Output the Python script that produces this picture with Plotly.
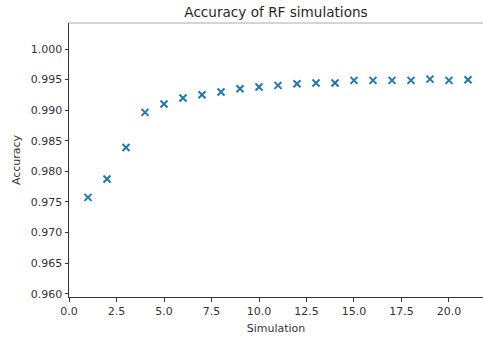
import plotly.graph_objects as go

simulation = list(range(1, 22))
accuracy = [0.97574, 0.97875, 0.98391, 0.98964, 0.99101, 0.99199, 0.99253,
            0.99297, 0.99351, 0.99379, 0.99405, 0.99433, 0.99444, 0.99444,
            0.99487, 0.99487, 0.99487, 0.99487, 0.99508, 0.99487, 0.99498]

x_ticks = [0, 2.5, 5, 7.5, 10, 12.5, 15, 17.5, 20]
y_ticks = [0.960, 0.965, 0.970, 0.975, 0.980, 0.985, 0.990, 0.995, 1.000]

fig = go.Figure()
fig.add_trace(go.Scatter(
    x=simulation, y=accuracy, mode="markers",
    marker=dict(symbol="x-thin", size=7, color="#1f77b4",
                line=dict(width=2, color="#1f77b4")),
    showlegend=False,
))

font = dict(family="DejaVu Sans", size=11, color="#333333")
fig.update_layout(
    width=483, height=338,
    margin=dict(l=69, r=0, t=23, b=41),
    plot_bgcolor="white", paper_bgcolor="white",
    font=font,
    title=dict(text="Accuracy of RF simulations", x=0.5, xref="paper",
               xanchor="center", y=1 - 12.7 / 338, yref="container",
               yanchor="middle", font=dict(family="DejaVu Sans", size=13.6, color="#262626")),
    xaxis=dict(range=[0, 21.79], tickvals=x_ticks, ticktext=[f"{v:.1f}" for v in x_ticks],
               showgrid=False, zeroline=False, showline=True, linecolor="#333333",
               linewidth=1, ticks="outside", ticklen=3.5, tickwidth=1, tickcolor="#333333",
               title=dict(text="Simulation", standoff=7, font=font)),
    yaxis=dict(range=[0.95946, 1.00425], tickvals=y_ticks, ticktext=[f"{v:.3f}" for v in y_ticks],
               showgrid=False, zeroline=False, showline=True, linecolor="#333333",
               linewidth=1, ticks="outside", ticklen=3.5, tickwidth=1, tickcolor="#333333",
               title=dict(text="Accuracy", standoff=7, font=font)),
    shapes=[dict(type="line", xref="paper", yref="paper", x0=0, x1=1, y0=1, y1=1,
                 line=dict(color="#aaaaaa", width=1))],
)

fig.write_html("out.html")
